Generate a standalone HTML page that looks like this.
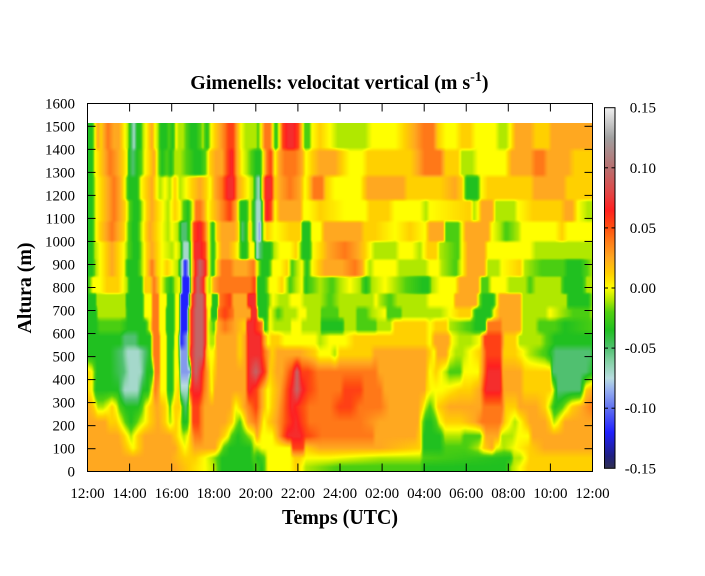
<!DOCTYPE html>
<html><head><meta charset="utf-8">
<style>
html,body{margin:0;padding:0;background:#fff;}
#wrap{position:relative;width:705px;height:576px;overflow:hidden;background:#fff;}
canvas{position:absolute;left:87px;top:123px;}
svg{position:absolute;left:0;top:0;}
text{font-family:"Liberation Serif","Times New Roman",serif;fill:#000;}
</style></head><body>
<div id="wrap">
<canvas id="c" width="506" height="349"></canvas>
<svg width="705" height="576" viewBox="0 0 705 576" xmlns="http://www.w3.org/2000/svg">
<defs>
<linearGradient id="g" x1="0" y1="0" x2="0" y2="1">
<stop offset="0" stop-color="#f0f0f0"/>
<stop offset="0.0833" stop-color="#a0a0a0"/>
<stop offset="0.1667" stop-color="#b87070"/>
<stop offset="0.2333" stop-color="#e04848"/>
<stop offset="0.2833" stop-color="#ff2020"/>
<stop offset="0.3333" stop-color="#ff5010"/>
<stop offset="0.3667" stop-color="#ff7818"/>
<stop offset="0.4167" stop-color="#ffa820"/>
<stop offset="0.46" stop-color="#ffd000"/>
<stop offset="0.5" stop-color="#ffff00"/>
<stop offset="0.5333" stop-color="#b0e800"/>
<stop offset="0.5667" stop-color="#50d010"/>
<stop offset="0.6167" stop-color="#20c020"/>
<stop offset="0.6667" stop-color="#50c070"/>
<stop offset="0.70" stop-color="#80d0a0"/>
<stop offset="0.75" stop-color="#b8dce0"/>
<stop offset="0.7833" stop-color="#96aff0"/>
<stop offset="0.8333" stop-color="#6070f0"/>
<stop offset="0.90" stop-color="#2020ff"/>
<stop offset="0.9667" stop-color="#202080"/>
<stop offset="1" stop-color="#303050"/>
</linearGradient>
</defs>

<text x="339.4" y="89" font-size="20" font-weight="bold" text-anchor="middle">Gimenells: velocitat vertical (m s<tspan dy="-8" font-size="14">-1</tspan><tspan dy="8">)</tspan></text>

<rect x="87.5" y="103.5" width="505" height="368" fill="none" stroke="#000" stroke-width="1"/>

<g stroke="#000" stroke-width="1">
<line x1="87.5" y1="448.7" x2="95.5" y2="448.7"/><line x1="584.5" y1="448.7" x2="592.5" y2="448.7"/>
<line x1="87.5" y1="425.65" x2="95.5" y2="425.65"/><line x1="584.5" y1="425.65" x2="592.5" y2="425.65"/>
<line x1="87.5" y1="402.6" x2="95.5" y2="402.6"/><line x1="584.5" y1="402.6" x2="592.5" y2="402.6"/>
<line x1="87.5" y1="379.6" x2="95.5" y2="379.6"/><line x1="584.5" y1="379.6" x2="592.5" y2="379.6"/>
<line x1="87.5" y1="356.6" x2="95.5" y2="356.6"/><line x1="584.5" y1="356.6" x2="592.5" y2="356.6"/>
<line x1="87.5" y1="333.55" x2="95.5" y2="333.55"/><line x1="584.5" y1="333.55" x2="592.5" y2="333.55"/>
<line x1="87.5" y1="310.5" x2="95.5" y2="310.5"/><line x1="584.5" y1="310.5" x2="592.5" y2="310.5"/>
<line x1="87.5" y1="287.5" x2="95.5" y2="287.5"/><line x1="584.5" y1="287.5" x2="592.5" y2="287.5"/>
<line x1="87.5" y1="264.5" x2="95.5" y2="264.5"/><line x1="584.5" y1="264.5" x2="592.5" y2="264.5"/>
<line x1="87.5" y1="241.45" x2="95.5" y2="241.45"/><line x1="584.5" y1="241.45" x2="592.5" y2="241.45"/>
<line x1="87.5" y1="218.4" x2="95.5" y2="218.4"/><line x1="584.5" y1="218.4" x2="592.5" y2="218.4"/>
<line x1="87.5" y1="195.4" x2="95.5" y2="195.4"/><line x1="584.5" y1="195.4" x2="592.5" y2="195.4"/>
<line x1="87.5" y1="172.4" x2="95.5" y2="172.4"/><line x1="584.5" y1="172.4" x2="592.5" y2="172.4"/>
<line x1="87.5" y1="149.35" x2="95.5" y2="149.35"/><line x1="584.5" y1="149.35" x2="592.5" y2="149.35"/>
<line x1="87.5" y1="126.3" x2="95.5" y2="126.3"/><line x1="584.5" y1="126.3" x2="592.5" y2="126.3"/>

<line x1="129.6" y1="103.5" x2="129.6" y2="111.5"/><line x1="129.6" y1="471.5" x2="129.6" y2="463.5"/>
<line x1="171.7" y1="103.5" x2="171.7" y2="111.5"/><line x1="171.7" y1="471.5" x2="171.7" y2="463.5"/>
<line x1="213.75" y1="103.5" x2="213.75" y2="111.5"/><line x1="213.75" y1="471.5" x2="213.75" y2="463.5"/>
<line x1="255.8" y1="103.5" x2="255.8" y2="111.5"/><line x1="255.8" y1="471.5" x2="255.8" y2="463.5"/>
<line x1="297.9" y1="103.5" x2="297.9" y2="111.5"/><line x1="297.9" y1="471.5" x2="297.9" y2="463.5"/>
<line x1="340" y1="103.5" x2="340" y2="111.5"/><line x1="340" y1="471.5" x2="340" y2="463.5"/>
<line x1="382.1" y1="103.5" x2="382.1" y2="111.5"/><line x1="382.1" y1="471.5" x2="382.1" y2="463.5"/>
<line x1="424.2" y1="103.5" x2="424.2" y2="111.5"/><line x1="424.2" y1="471.5" x2="424.2" y2="463.5"/>
<line x1="466.25" y1="103.5" x2="466.25" y2="111.5"/><line x1="466.25" y1="471.5" x2="466.25" y2="463.5"/>
<line x1="508.3" y1="103.5" x2="508.3" y2="111.5"/><line x1="508.3" y1="471.5" x2="508.3" y2="463.5"/>
<line x1="550.4" y1="103.5" x2="550.4" y2="111.5"/><line x1="550.4" y1="471.5" x2="550.4" y2="463.5"/>
</g>

<g font-size="15" text-anchor="end">
<text x="75" y="108.3">1600</text>
<text x="75" y="131.3">1500</text>
<text x="75" y="154.4">1400</text>
<text x="75" y="177.4">1300</text>
<text x="75" y="200.4">1200</text>
<text x="75" y="223.4">1100</text>
<text x="75" y="246.5">1000</text>
<text x="75" y="269.5">900</text>
<text x="75" y="292.5">800</text>
<text x="75" y="315.5">700</text>
<text x="75" y="338.6">600</text>
<text x="75" y="361.6">500</text>
<text x="75" y="384.6">400</text>
<text x="75" y="407.6">300</text>
<text x="75" y="430.7">200</text>
<text x="75" y="453.7">100</text>
<text x="75" y="476.7">0</text>
</g>

<g font-size="15" text-anchor="middle">
<text x="87.5" y="498">12:00</text>
<text x="129.6" y="498">14:00</text>
<text x="171.7" y="498">16:00</text>
<text x="213.75" y="498">18:00</text>
<text x="255.8" y="498">20:00</text>
<text x="297.9" y="498">22:00</text>
<text x="340" y="498">24:00</text>
<text x="382.1" y="498">02:00</text>
<text x="424.2" y="498">04:00</text>
<text x="466.25" y="498">06:00</text>
<text x="508.3" y="498">08:00</text>
<text x="550.4" y="498">10:00</text>
<text x="592.5" y="498">12:00</text>
</g>

<text x="340" y="524" font-size="21" font-weight="bold" text-anchor="middle" textLength="116" lengthAdjust="spacingAndGlyphs">Temps (UTC)</text>
<text transform="translate(31,288) rotate(-90)" x="0" y="0" font-size="20" font-weight="bold" text-anchor="middle" textLength="91" lengthAdjust="spacingAndGlyphs">Altura (m)</text>

<rect x="604.5" y="107.7" width="10.5" height="360.6" fill="url(#g)" stroke="#000" stroke-width="1"/>
<g stroke="#000" stroke-width="1">
<line x1="604.5" y1="167.8" x2="608" y2="167.8"/><line x1="611.5" y1="167.8" x2="615" y2="167.8"/>
<line x1="604.5" y1="227.9" x2="608" y2="227.9"/><line x1="611.5" y1="227.9" x2="615" y2="227.9"/>
<line x1="604.5" y1="288" x2="608" y2="288"/><line x1="611.5" y1="288" x2="615" y2="288"/>
<line x1="604.5" y1="348.1" x2="608" y2="348.1"/><line x1="611.5" y1="348.1" x2="615" y2="348.1"/>
<line x1="604.5" y1="408.2" x2="608" y2="408.2"/><line x1="611.5" y1="408.2" x2="615" y2="408.2"/>
</g>
<g font-size="15" text-anchor="end">
<text x="656" y="112.7">0.15</text>
<text x="656" y="172.8">0.10</text>
<text x="656" y="232.9">0.05</text>
<text x="656" y="293">0.00</text>
<text x="656" y="353.1">-0.05</text>
<text x="656" y="413.2">-0.10</text>
<text x="656" y="473.3">-0.15</text>
</g>
</svg>
</div>
<script>
(function(){
var V={A:-0.15,B:-0.12,C:-0.09,D:-0.07,E:-0.05,F:-0.035,G:-0.022,H:-0.01,I:0,J:0.012,K:0.025,L:0.04,M:0.055,N:0.07,O:0.095,P:0.12};
var S=[[-0.15,48,48,80],[-0.14,32,32,128],[-0.12,32,32,255],[-0.10,96,112,240],[-0.085,150,175,235],[-0.075,184,220,224],[-0.06,128,208,160],[-0.05,80,192,112],[-0.035,32,192,32],[-0.02,80,208,16],[-0.01,176,232,0],[0,255,255,0],[0.012,255,208,0],[0.025,255,168,32],[0.04,255,120,24],[0.05,255,80,16],[0.065,255,32,32],[0.08,224,72,72],[0.10,184,112,112],[0.125,160,160,160],[0.15,240,240,240]];
function col(v){
 if(v<=S[0][0])return [S[0][1],S[0][2],S[0][3]];
 for(var i=0;i<S.length-1;i++){
  if(v<=S[i+1][0]){var t=(v-S[i][0])/(S[i+1][0]-S[i][0]);
   return [S[i][1]+(S[i+1][1]-S[i][1])*t,S[i][2]+(S[i+1][2]-S[i][2])*t,S[i][3]+(S[i+1][3]-S[i][3])*t];}
 }
 var l=S[S.length-1];return [l[1],l[2],l[3]];
}
var R=[
[136,6,"87F 92F 95I 98K 101J 104K 108L 114K 119K 122J 125I 128H 130F 134D 137F 140F 143H 146I 149J 152K 155I 158H 161F 166F 169G 173F 176I 179H 183H 187G 191F 196F 200G 203H 207F 211I 215J 220K 225L 229M 233M 237K 241I 246H 251H 256H 258G 261I 265L 270L 273I 276F 279I 283M 288N 293N 298M 301K 305G 309G 312I 320J 330I 338H 350H 365H 372I 382I 395I 405J 415K 424L 433L 438J 446I 455I 462J 470J 476I 495I 500H 506H 510I 516K 530K 536J 548J 552K 570K 593K"],
[163,6,"87F 92F 95I 100J 105K 110L 118K 123J 127I 129F 133E 137F 141G 145I 150J 154K 158H 162F 167G 171F 175H 180H 188G 195F 200F 205G 210J 216K 222K 228M 232N 237K 242I 247H 252G 256F 260F 263I 267L 271M 275I 279K 285L 295L 302K 306I 312J 320K 335K 342J 350I 362I 368J 395J 410J 418K 425L 440L 446J 458J 462H 472H 478I 486I 505I 512K 530K 536L 543L 548K 568K 575J 593J"],
[189,6,"87F 92F 96I 102J 108K 114L 120K 125I 129F 137F 141I 146J 152K 157I 160H 165I 170H 175J 180H 186I 192J 200K 206J 210I 215K 222L 228N 233N 238K 243J 248I 253H 256E 259D 262I 266N 271N 275J 280K 290L 300K 305I 309J 314L 322L 326J 335I 360I 368K 403K 408J 440J 455K 462J 467F 477F 481I 488J 530J 535K 563K 568J 593J"],
[211,6,"87F 92F 96I 102J 108K 114L 120K 125J 130G 134F 138F 142H 147J 152K 157J 163I 168H 175J 180I 184G 188F 193I 196L 200L 204K 208I 212J 218K 224L 230M 236K 241F 246F 250I 254F 257D 260D 263H 266N 271M 275I 280K 300K 304I 308I 320J 345I 365I 370J 388J 395I 420I 426H 430I 470J 474H 478I 482K 492K 496H 514H 518I 533J 560J 566K 572K 578I 588H 593H"],
[232,6,"87F 92F 96I 100J 106K 112L 118K 124J 129G 133F 137F 141H 146J 150K 156J 162I 168H 172I 178H 182E 186E 190G 194M 200N 205L 210H 213F 217J 222K 234K 238J 242E 246F 250J 254F 257D 260C 263H 267J 275I 290J 300J 303F 309F 312I 320I 325K 360K 365J 375J 395I 410J 425I 430K 443K 446G 458G 462I 466K 488K 492I 500H 506G 518H 522I 555I 562J 568I 593I"],
[251,6,"87F 92F 95H 100I 106J 112K 118J 124I 129G 134F 138F 142H 147J 152K 157J 162I 172H 176I 180H 184D 188D 191H 195N 200N 205M 209I 213F 217I 222K 228K 234J 238I 242F 246F 250I 254I 257D 260E 264F 270F 274H 280I 290I 296J 300H 303F 309F 313I 322J 328K 345L 358K 365J 375H 395H 400I 412I 420H 428J 436J 440H 458G 462I 468K 484K 488I 510I 530I 536H 593H"],
[268,6,"87F 92F 96H 100I 106J 112K 118J 124I 128F 137F 142H 147J 152L 157J 162I 167J 172I 178H 182D 185B 188C 192J 196N 200O 205N 209I 213F 217J 222L 230L 235K 246K 254L 257I 262F 268F 273I 280I 287J 292G 297H 302I 307F 312I 318J 325K 342K 355L 362K 366I 370H 375I 395I 400H 425H 430I 438I 442H 456G 462I 468K 484K 488H 498H 502I 520J 525H 543G 563G 568F 580F 586G 593H"],
[285,6,"87F 93I 100I 107J 118J 123I 127H 130F 141F 145J 150J 154L 157K 161I 167G 171F 175H 180I 183B 189B 191I 195N 198O 203N 207I 210H 214K 220L 250L 255M 258F 264F 270I 276I 282J 290G 296H 302I 306F 310G 320H 332G 340H 350I 360H 366F 372H 385I 395H 423F 428F 432H 440I 455I 460K 478K 482G 487G 492I 505I 510H 525H 530G 536H 560H 565F 582F 587H 593H"],
[302,2,"87F 95F 97H 110H 125H 127F 142F 145I 151I 153L 158L 160I 166I 168F 173F 176I 179I 181B 188B 190I 193N 197O 202O 205N 207I 211I 213F 217F 220L 230M 234K 246K 249N 255N 258F 266F 270H 273I 280H 287H 292I 300I 305H 320H 330G 340H 372H 376I 380H 390G 398H 425H 430I 453I 456K 476K 479H 483F 493F 497I 500K 520K 523H 566H 569F 588F 593H"],
[313,2,"87F 96F 98H 110H 125H 128F 142F 145I 151I 153L 158L 160I 165I 167F 173F 176I 179I 181B 187B 189J 192N 196O 202O 205N 208I 210I 212F 217F 218L 225M 233L 235K 250K 252N 256N 259F 266F 270I 278G 285H 295H 300I 305I 308H 320H 322G 337G 340H 355H 358G 365G 372H 385I 388G 400G 403H 430H 440H 450I 460J 470J 476F 490F 494I 500K 520K 523H 545H 550I 560H 575G 588G 593H"],
[326,2,"87F 96F 100G 120G 128F 145F 150I 153L 158L 160I 165I 167F 173F 176I 179I 181B 187B 189J 192N 196O 202O 205N 208I 210H 214G 218K 225L 235K 245J 248N 253N 258M 262L 265F 270I 275H 290H 292I 300I 303H 320H 322F 342F 345H 355H 358G 375G 378H 390H 395J 425J 430I 436J 446J 450H 470G 476F 485F 488L 500L 503K 520K 523H 535H 540G 555G 565F 593G"],
[340,2,"87F 120F 125E 135E 140F 150F 152I 154L 159L 161I 166I 168F 173F 175I 178I 181B 187C 189J 192N 196O 202O 205N 208I 211H 214H 217K 235K 240J 245K 249N 256N 260N 263L 268I 272J 278J 285I 300I 315I 320H 330I 345I 355J 425J 430I 435K 448K 452I 460H 470H 480I 485M 500M 505J 515J 520H 540H 548G 555F 593F"],
[355,1,"87F 95F 110F 122E 128D 138D 145E 150F 152I 154L 159L 161I 166I 168F 172F 175I 178I 181C 187C 189J 191N 196O 202O 204N 207J 210I 213I 218K 235K 240J 245K 249N 256N 260N 265L 272J 278K 300K 315J 320I 330I 335H 340J 370J 375K 425K 430J 434I 438K 446K 450I 456H 462H 470I 480J 487M 500M 504J 515J 530H 545G 550F 556E 590E 593F"],
[372,1,"87J 92I 97F 110F 124E 130D 140D 147F 152F 154I 155L 159L 161I 166I 168F 172F 175I 179I 181C 190C 192N 196O 201N 205L 208K 211I 214J 218K 245K 249N 256O 262N 265M 270J 277K 282K 292M 297O 302M 308M 318L 350L 375L 380K 425K 430I 436J 446H 450G 460G 464I 478I 482K 488N 500N 503K 520K 525J 550J 553E 586E 593F"],
[390,1,"87J 92I 96F 118F 125D 137D 143F 148F 152I 155L 159K 161I 166I 168F 172F 175I 179J 181D 188D 190M 194N 200N 204L 208K 212I 215K 245K 249N 256M 262K 268I 273J 280K 292N 297O 302N 308M 320L 340L 345M 360M 365L 380L 385K 425K 426J 432I 442I 460J 470J 480K 486N 500N 504K 520K 525J 550J 553I 558E 580E 586J 593K"],
[407,1,"87K 94J 98H 103H 108I 112J 116I 120G 126F 138F 142G 146I 150J 157K 165J 168I 170G 172I 175J 180J 183F 186E 190I 193M 198M 201L 205K 215K 230K 236I 240J 244K 250L 256M 262K 268I 272J 278K 292N 300M 310L 330L 340M 350M 360L 380L 390K 418K 422J 426H 430G 434H 438J 450K 480K 484L 502L 506J 515J 520K 532K 536K 545J 550H 555F 562G 572J 582K 593L"],
[422,1,"87K 105K 110J 116J 120I 126G 131F 136G 140H 145I 150J 158K 165J 168I 170H 173I 176J 180I 183F 187F 190I 193M 198M 201L 205K 225K 232J 236H 240G 244I 248K 256L 260K 264I 268J 276K 288M 296N 302M 310L 345L 360L 380K 418K 422H 426F 431F 436G 440I 446J 460J 475K 482L 500L 505J 515H 520I 530K 545K 550J 554H 558I 565K 593K"],
[436,1,"87K 118K 124J 128I 131H 134I 138J 145K 170K 176J 180I 184H 188I 192K 195L 200L 205K 218K 224J 228I 232G 238F 245G 250H 254I 257K 262I 272I 278K 288N 300N 306M 322L 372L 376K 415K 420J 424F 440F 445H 460H 465G 480G 486K 498K 502H 512H 518I 528I 533K 593K"],
[448,1,"87K 120K 128J 133I 138J 145K 175K 180J 185I 190J 195K 215K 220I 224G 230F 250F 254H 257H 262I 290I 293M 303M 306J 320K 380K 420J 424F 440F 446G 465G 478H 484J 492K 496I 504H 515I 530J 545K 593K"],
[458,1,"87K 170K 185J 195J 205I 212H 218G 222F 250F 254G 258F 264G 268I 290I 295J 300J 306I 330I 380H 420H 424G 510F 514H 520H 525I 530J 593J"],
[467,1,"87K 175K 190J 205I 215H 222F 252F 256G 262F 268I 290I 296J 302I 306H 340G 380G 420G 424F 505F 512H 520I 528J 593J"],
[473,1,"87K 175K 190J 205I 215H 222F 252F 256G 262F 268I 290I 296J 302I 306H 340G 380G 420G 424F 505F 512H 520I 528J 593J"]
];
var W=506,H=349,X0=87,Y0=123;
var rv=R.map(function(r){
 var pts=r[2].trim().split(/\s+/).map(function(p){return [parseFloat(p),V[p.charAt(p.length-1)]];});
 var a=new Float32Array(W);
 for(var i=0;i<W;i++){
  var x=X0+i+0.5,j=0;
  while(j<pts.length-2&&pts[j+1][0]<x)j++;
  var p0=pts[j],p1=pts[j+1];
  var t=(x-p0[0])/(p1[0]-p0[0]);t=Math.max(0,Math.min(1,t));
  a[i]=p0[1]+(p1[1]-p0[1])*t;
 }
 return a;
});
var c=document.getElementById('c'),ctx=c.getContext('2d'),img=ctx.createImageData(W,H),d=img.data;
for(var py=0;py<H;py++){
 var y=Y0+py+0.5,k=0;
 while(k<R.length-2&&R[k+1][0]<y)k++;
 var t=(y-R[k][0])/(R[k+1][0]-R[k][0]);t=Math.max(0,Math.min(1,t));
 var s=R[k][1];t=Math.max(0,Math.min(1,(t-0.5)*s+0.5));
 var a0=rv[k],a1=rv[k+1];
 for(var px=0;px<W;px++){
  var v=a0[px]+(a1[px]-a0[px])*t;
  var cc=col(v),o=(py*W+px)*4;
  d[o]=cc[0];d[o+1]=cc[1];d[o+2]=cc[2];d[o+3]=255;
 }
}
ctx.putImageData(img,0,0);
})();
</script>
</body></html>
